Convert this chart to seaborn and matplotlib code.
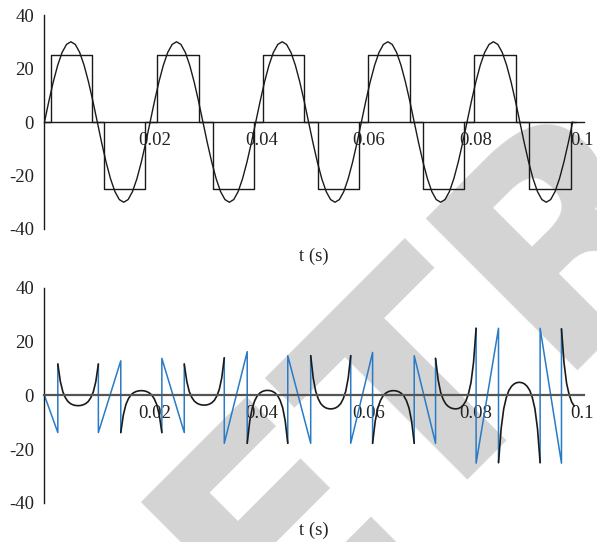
import numpy as np
import pandas as pd
import seaborn as sns
import matplotlib
matplotlib.use("Agg")
import matplotlib.pyplot as plt
from matplotlib.transforms import ScaledTranslation

# ---- top panel: reference sine and quasi-square wave ----
sine_period = 0.0198
sine_cycle = [0, 7.8, 15.0, 21.2, 26.0, 29.0, 30.0, 29.0, 26.0, 21.2, 15.0, 7.8,
              0, -7.8, -15.0, -21.2, -26.0, -29.0, -30.0, -29.0, -26.0, -21.2, -15.0, -7.8]
n_cycles = 5
pulse_on = [0.0012, 0.0111, 0.0211, 0.0315, 0.0410, 0.0512, 0.0606, 0.0709, 0.0805, 0.0908]
pulse_off = [0.0090, 0.0188, 0.0290, 0.0393, 0.0487, 0.0590, 0.0685, 0.0787, 0.0884, 0.0987]
pulse_level = [25, -25, 25, -25, 25, -25, 25, -25, 25, -25]

# ---- bottom panel: black arcs + blue transition segments ----
arc_start = [0.0025, 0.0143, 0.0262, 0.0380, 0.0499, 0.0615, 0.0733, 0.0851, 0.0969]
arc_end = [0.0101, 0.0220, 0.0337, 0.0456, 0.0574, 0.0693, 0.0809, 0.0929, 0.1046]
arc_y_start = [11.7, -13.8, 11.7, -17.8, 14.8, -17.8, 13.8, -25.0, 24.8]
arc_y_ext = [-3.8, 1.8, -3.6, 1.9, -5.0, 1.8, -5.0, 4.9, -5.5]
arc_y_end = [11.7, -13.8, 14.0, -17.8, 14.8, -17.8, 25.0, -25.0, 24.8]
# shape of one arc, read from the first U (1 = end value, 0 = extreme)
arc_profile = [1, 0.58, 0.33, 0.19, 0.10, 0.05, 0.02, 0.005, 0,
               0.005, 0.02, 0.05, 0.10, 0.19, 0.33, 0.58, 1]
t_last = 0.0996

blue_t = [[0, 0.0025, 0.0025],
          [0.0101, 0.0101, 0.0143, 0.0143],
          [0.0220, 0.0220, 0.0262, 0.0262],
          [0.0337, 0.0337, 0.0380, 0.0380],
          [0.0456, 0.0456, 0.0499, 0.0499],
          [0.0574, 0.0574, 0.0615, 0.0615],
          [0.0693, 0.0693, 0.0733, 0.0733],
          [0.0809, 0.0809, 0.0851, 0.0851],
          [0.0929, 0.0929, 0.0969, 0.0969]]
blue_y = [[0, -13.8, 11.7],
          [11.7, -13.8, 12.9, -13.8],
          [-13.8, 13.8, -13.8, 11.7],
          [14.0, -17.8, 16.3, -17.8],
          [-17.8, 14.8, -17.8, 14.8],
          [14.8, -17.8, 16.0, -17.8],
          [-17.8, 14.8, -17.8, 13.8],
          [25.0, -25.2, 25.0, -25.0],
          [-25.0, 25.0, -25.2, 24.8]]

x_ticks = [0.02, 0.04, 0.06, 0.08, 0.1]
x_labels = ["0.02", "0.04", "0.06", "0.08", "0.1"]
y_ticks = [-40, -20, 0, 20, 40]
y_labels = ["-40", "-20", "0", "20", "40"]

# build tables
sine_y = list(np.tile(sine_cycle, n_cycles)) + [0]
sine_df = pd.DataFrame({"t": np.arange(len(sine_y)) * sine_period / len(sine_cycle),
                        "v": sine_y})

sq_t, sq_v = [0], [0]
for a, b, lv in zip(pulse_on, pulse_off, pulse_level):
    sq_t += [a, a, b, b]
    sq_v += [0, lv, lv, 0]
sq_t.append(t_last)
sq_v.append(0)
square_df = pd.DataFrame({"t": sq_t, "v": sq_v})

rows = []
prof = np.array(arc_profile)
half = len(prof) // 2
for i in range(len(arc_start)):
    s = np.linspace(0, 1, len(prof))
    tt = arc_start[i] + s * (arc_end[i] - arc_start[i])
    amp = np.where(np.arange(len(prof)) <= half,
                   arc_y_start[i] - arc_y_ext[i], arc_y_end[i] - arc_y_ext[i])
    vv = arc_y_ext[i] + amp * prof
    for a, b in zip(tt, vv):
        if a <= t_last:
            rows.append((i, a, b))
arc_df = pd.DataFrame(rows, columns=["arc", "t", "v"])

brows = []
for i, (ts, vs) in enumerate(zip(blue_t, blue_y)):
    for a, b in zip(ts, vs):
        brows.append((i, a, b))
blue_df = pd.DataFrame(brows, columns=["seg", "t", "v"])

sns.set_theme(style="white")
plt.rcParams["font.family"] = ["Liberation Serif", "DejaVu Serif"]
plt.rcParams["axes.unicode_minus"] = False

fig = plt.figure(figsize=(5.97, 5.42), dpi=100)
ax1 = fig.add_axes([0.0745, 0.5775, 0.9037, 0.3948])
ax2 = fig.add_axes([0.0745, 0.0720, 0.9037, 0.3967])

# watermark
fig.text(0.178, -0.502, "RETRACTED", fontsize=212, fontfamily="DejaVu Sans",
         fontweight="bold", color="#d4d4d4", rotation=45, rotation_mode="anchor",
         ha="left", va="baseline", zorder=-5)

sns.lineplot(data=sine_df, x="t", y="v", ax=ax1, color="#1a1a1a", lw=1.0,
             estimator=None, sort=False)
sns.lineplot(data=square_df, x="t", y="v", ax=ax1, color="#1a1a1a", lw=1.0,
             estimator=None, sort=False)

sns.lineplot(data=blue_df, x="t", y="v", units="seg", ax=ax2, color="#2a7bc6",
             lw=1.1, estimator=None, sort=False)
sns.lineplot(data=arc_df, x="t", y="v", units="arc", ax=ax2, color="#1a1a1a",
             lw=1.2, estimator=None, sort=False)

shift = ScaledTranslation(4 / 100, 0, fig.dpi_scale_trans)
for ax, zc in [(ax1, "#1a1a1a"), (ax2, "#555555")]:
    ax.set_facecolor("none")
    ax.set_xlim(0, 0.10112)
    ax.set_ylim(-40, 40)
    ax.spines["top"].set_visible(False)
    ax.spines["right"].set_visible(False)
    ax.spines["left"].set_color("#1a1a1a")
    ax.spines["left"].set_linewidth(1.0)
    ax.spines["bottom"].set_position(("data", 0))
    ax.spines["bottom"].set_color(zc)
    ax.spines["bottom"].set_linewidth(1.0 if ax is ax1 else 1.6)
    ax.set_xticks(x_ticks)
    ax.set_xticklabels(x_labels)
    ax.set_yticks(y_ticks)
    ax.set_yticklabels(y_labels)
    ax.tick_params(length=0, labelsize=13.5, colors="#222222")
    ax.tick_params(axis="x", pad=7)
    ax.tick_params(axis="y", pad=7.5)
    for lab in ax.get_xticklabels():
        lab.set_transform(lab.get_transform() + shift)
    ax.set_ylabel("")
    ax.set_xlabel("t (s)", fontsize=13.5, color="#222222")
    ax.xaxis.set_label_coords(0.5, -0.088)

fig.savefig("out.png", dpi=100)
